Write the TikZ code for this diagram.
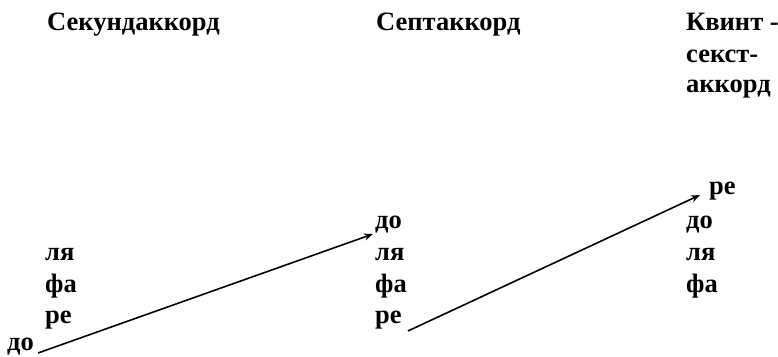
\documentclass[tikz,border=0pt]{standalone}
\usepackage{fontspec}
\setmainfont{Liberation Serif}
\usetikzlibrary{arrows.meta}
\begin{document}
\begin{tikzpicture}[x=1pt,y=-1pt,
  lbl/.style={anchor=base west,inner sep=0pt,font=\fontsize{26.5}{30}\selectfont\bfseries},
  arr/.style={line width=1.6pt,-{Stealth[length=9pt,width=7pt,inset=3pt]}}]
\useasboundingbox (0,0) rectangle (778,356);
% headers
\node[lbl] (h1) at (47,30) {Секундаккорд};
\node[lbl] (h2) at (376,30) {Септаккорд};
\node[lbl] (h3a) at (686,30) {Квинт -};
\node[lbl] (h3b) at (686,62) {секст-};
\node[lbl] (h3c) at (686,92) {аккорд};
% column 1
\node[lbl] (a1) at (45,260) {ля};
\node[lbl] (a2) at (45,292) {фа};
\node[lbl] (a3) at (45,323) {ре};
\node[lbl] (a4) at (7,350) {до};
% column 2
\node[lbl] (b1) at (375,228) {до};
\node[lbl] (b2) at (375,260) {ля};
\node[lbl] (b3) at (375,292) {фа};
\node[lbl] (b4) at (375,323) {ре};
% column 3
\node[lbl] (c0) at (709,194) {ре};
\node[lbl] (c1) at (686,228) {до};
\node[lbl] (c2) at (686,260) {ля};
\node[lbl] (c3) at (686,292) {фа};
% arrows
\draw[arr] ([xshift=4pt,yshift=-3pt]a4.base east) -- ([xshift=-2pt,yshift=-6pt]b1.base west);
\draw[arr] ([xshift=6pt,yshift=-8pt]b4.base east) -- ([xshift=-9pt,yshift=-1pt]c0.base west);
\end{tikzpicture}
\end{document}
